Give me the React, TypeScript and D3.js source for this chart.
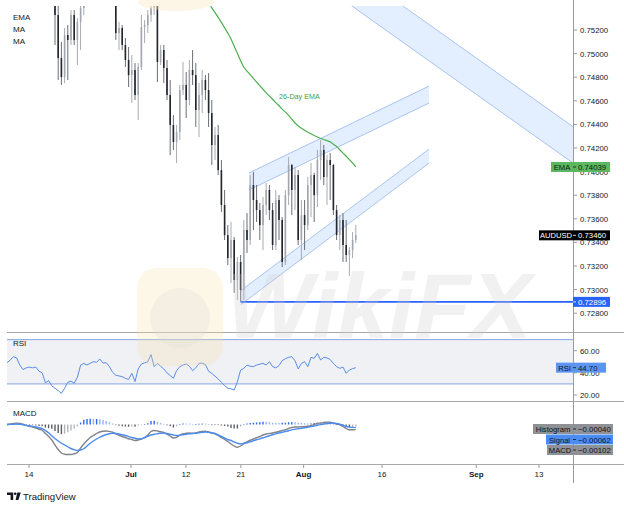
import React from "react";
import * as d3 from "d3";

const W = 624;
const H = 508;
const FONT = "'Liberation Sans', Arial, sans-serif";

// OHLC per bar [open, high, low, close]
const candles: [number, number, number, number][] = [
  [0.7715, 0.7725, 0.77, 0.7708],
  [0.7708, 0.7718, 0.7695, 0.77],
  [0.77, 0.7712, 0.769, 0.7705],
  [0.7705, 0.7715, 0.7695, 0.7698],
  [0.7698, 0.7705, 0.768, 0.7685],
  [0.7685, 0.7692, 0.767, 0.7675],
  [0.7675, 0.7688, 0.7668, 0.768],
  [0.768, 0.769, 0.767, 0.7672],
  [0.7672, 0.7685, 0.7665, 0.7678],
  [0.7678, 0.7684, 0.766, 0.7665],
  [0.7665, 0.767, 0.764, 0.7648],
  [0.7648, 0.766, 0.764, 0.7655],
  [0.7655, 0.766, 0.76, 0.761],
  [0.761, 0.7625, 0.759, 0.76],
  [0.76, 0.7608, 0.7555, 0.7562],
  [0.7562, 0.757, 0.75073, 0.75327],
  [0.75327, 0.75412, 0.74776, 0.74962],
  [0.74962, 0.75098, 0.74734, 0.74801],
  [0.74801, 0.75217, 0.7475, 0.75157],
  [0.75157, 0.75242, 0.74776, 0.75115],
  [0.75115, 0.75369, 0.75073, 0.75327],
  [0.75327, 0.75369, 0.75073, 0.75115],
  [0.75115, 0.75301, 0.74903, 0.75268],
  [0.75268, 0.75412, 0.7503, 0.75386],
  [0.75386, 0.756, 0.75327, 0.7552],
  [0.7552, 0.7575, 0.7545, 0.757],
  [0.757, 0.7588, 0.7562, 0.758],
  [0.758, 0.7598, 0.7572, 0.759],
  [0.759, 0.7605, 0.7578, 0.7585],
  [0.7585, 0.7612, 0.758, 0.7605],
  [0.7605, 0.7615, 0.7585, 0.7592],
  [0.7592, 0.7608, 0.7585, 0.7598],
  [0.7598, 0.7602, 0.757, 0.7575],
  [0.7575, 0.7582, 0.7548, 0.7552],
  [0.7552, 0.7558, 0.75115, 0.75174],
  [0.75174, 0.75268, 0.7503, 0.75217],
  [0.75217, 0.75242, 0.7503, 0.75073],
  [0.75073, 0.75132, 0.74886, 0.74946],
  [0.74946, 0.75056, 0.74717, 0.74818],
  [0.74818, 0.74988, 0.74581, 0.74861],
  [0.74861, 0.7492, 0.74607, 0.74649],
  [0.74649, 0.7492, 0.74437, 0.74886],
  [0.74886, 0.75327, 0.74861, 0.75225],
  [0.75225, 0.75284, 0.7509, 0.75242],
  [0.75242, 0.75369, 0.75174, 0.75327],
  [0.75327, 0.75437, 0.75268, 0.75386],
  [0.75386, 0.75496, 0.75327, 0.75412],
  [0.75412, 0.7548, 0.74759, 0.74929],
  [0.74929, 0.75073, 0.74903, 0.7503],
  [0.7503, 0.75073, 0.7475, 0.74878],
  [0.74878, 0.74946, 0.74607, 0.74649],
  [0.74649, 0.74776, 0.7414, 0.74395],
  [0.74395, 0.74479, 0.74183, 0.74251],
  [0.74251, 0.74395, 0.74073, 0.74335],
  [0.74335, 0.74734, 0.74268, 0.74691],
  [0.74691, 0.74929, 0.74649, 0.74734],
  [0.74734, 0.74844, 0.74454, 0.74607],
  [0.74607, 0.74946, 0.74564, 0.74861],
  [0.74861, 0.7503, 0.74734, 0.74818],
  [0.74818, 0.7492, 0.74378, 0.74522],
  [0.74522, 0.7475, 0.74293, 0.74649],
  [0.74649, 0.74861, 0.74496, 0.74776],
  [0.74776, 0.74818, 0.74607, 0.74691],
  [0.74691, 0.74835, 0.74378, 0.74496],
  [0.74496, 0.74607, 0.74056, 0.74225],
  [0.74225, 0.74378, 0.74098, 0.7431],
  [0.7431, 0.74395, 0.73971, 0.74013],
  [0.74013, 0.74098, 0.73657, 0.73717],
  [0.73717, 0.73844, 0.7342, 0.73462],
  [0.73462, 0.73547, 0.73208, 0.73267],
  [0.73267, 0.73573, 0.73056, 0.7342],
  [0.7342, 0.73445, 0.72971, 0.73081],
  [0.73081, 0.73276, 0.72912, 0.73234],
  [0.73234, 0.73293, 0.72896, 0.72996],
  [0.72996, 0.7359, 0.72912, 0.73505],
  [0.73505, 0.73649, 0.7331, 0.7342],
  [0.7342, 0.73971, 0.73378, 0.73886],
  [0.73886, 0.73996, 0.73505, 0.73759],
  [0.73759, 0.73886, 0.73573, 0.73674],
  [0.73674, 0.73734, 0.7342, 0.73547],
  [0.73547, 0.73784, 0.73335, 0.73717],
  [0.73717, 0.73903, 0.73632, 0.73844],
  [0.73844, 0.73886, 0.7359, 0.73674],
  [0.73674, 0.73734, 0.73335, 0.73378],
  [0.73378, 0.73844, 0.73335, 0.73759],
  [0.73759, 0.73801, 0.7342, 0.7359],
  [0.7359, 0.73615, 0.73191, 0.73234],
  [0.73234, 0.73844, 0.73208, 0.73801],
  [0.73801, 0.74123, 0.73717, 0.74056],
  [0.74056, 0.74065, 0.73632, 0.73844],
  [0.73844, 0.74039, 0.73674, 0.73971],
  [0.73971, 0.74013, 0.73378, 0.7342],
  [0.7342, 0.73759, 0.73251, 0.73632],
  [0.73632, 0.73759, 0.73335, 0.73547],
  [0.73547, 0.73954, 0.73505, 0.73886],
  [0.73886, 0.74073, 0.73615, 0.73971],
  [0.73971, 0.7399, 0.73573, 0.73801],
  [0.73801, 0.74183, 0.737, 0.74098],
  [0.74098, 0.74268, 0.73929, 0.74183],
  [0.74183, 0.74225, 0.73886, 0.73954],
  [0.73954, 0.7414, 0.73717, 0.74098],
  [0.74098, 0.74157, 0.73759, 0.74056],
  [0.74056, 0.74065, 0.73632, 0.73674],
  [0.73674, 0.73717, 0.7342, 0.73462],
  [0.73462, 0.73632, 0.73335, 0.7359],
  [0.7359, 0.73649, 0.73234, 0.73378],
  [0.73378, 0.7359, 0.73234, 0.73293],
  [0.73293, 0.73361, 0.73115, 0.73335],
  [0.73335, 0.73488, 0.73267, 0.7342],
  [0.7342, 0.73547, 0.73395, 0.7346],
];

const ema26Start = 62;
const ema26: number[] = [
  0.75496, 0.75446, 0.75387, 0.75347, 0.75307, 0.75265, 0.75219, 0.75174, 0.75123, 0.75062,
  0.75001, 0.7494, 0.74884, 0.74852, 0.74821, 0.7479, 0.74759, 0.74729, 0.74698, 0.74667,
  0.7464, 0.74613, 0.74585, 0.74558, 0.7453, 0.74504, 0.74477, 0.74444, 0.74412, 0.74386,
  0.74367, 0.7435, 0.74334, 0.7432, 0.74306, 0.74293, 0.7428, 0.74272, 0.74262, 0.74252,
  0.74231, 0.74212, 0.74185, 0.74157, 0.7413, 0.74101, 0.74073, 0.74039,
];

const rsi: number[] = [
  49.2, 51.5, 54.6, 53.5, 47.0, 43.0, 44.5, 45.2, 44.5, 45.2,
  41.5, 40.0, 31.0, 33.0, 28.2, 26.1, 24.0, 21.5, 26.0, 31.5,
  32.5, 30.6, 36.0, 47.0, 48.5, 47.1, 48.6, 50.1, 49.5, 52.5,
  48.8, 49.2, 45.6, 40.5, 37.8, 37.2, 36.6, 35.0, 34.0, 39.6,
  32.1, 43.5, 48.0, 49.0, 50.0, 56.5, 45.6, 48.6, 46.0, 43.5,
  40.0, 37.5, 35.1, 42.0, 45.6, 47.1, 48.0, 46.0, 42.0, 44.5,
  48.5, 48.8, 47.5, 41.5, 39.5, 37.0, 34.5, 31.5, 28.5, 26.1,
  25.6, 24.5, 32.0, 42.5, 44.0, 47.0, 46.0, 45.6, 47.1, 47.8,
  48.6, 47.1, 50.1, 45.6, 44.5, 46.5, 51.0, 52.8, 54.0, 54.6,
  51.0, 43.5, 48.6, 50.1, 45.6, 54.0, 53.1, 57.5, 51.6, 54.0,
  53.5, 52.0, 48.5, 45.6, 44.1, 45.2, 39.6, 42.6, 43.8, 44.7,
];

const macdLine: number[] = [
  0.0, 0.0001, 0.0002, 0.00027, 0.0002, 0.00005, -0.00015, -0.00035, -0.0005, -0.0007,
  -0.00095, -0.00115, -0.0018, -0.0024, -0.0031, -0.0041, -0.005, -0.0057, -0.00595, -0.006,
  -0.006, -0.00585, -0.0056, -0.0047, -0.0039, -0.0032, -0.0026, -0.0022, -0.0018, -0.0015,
  -0.00135, -0.0013, -0.0014, -0.00155, -0.00185, -0.00215, -0.0024, -0.0026, -0.00285, -0.003,
  -0.0032, -0.0031, -0.0029, -0.0026, -0.0021, -0.0014, -0.0012, -0.0013, -0.00145, -0.0016,
  -0.00195, -0.0023, -0.0027, -0.00255, -0.00215, -0.00185, -0.00175, -0.0017, -0.00175, -0.0017,
  -0.0015, -0.0014, -0.00135, -0.0015, -0.0017, -0.00185, -0.0022, -0.0026, -0.003, -0.0034,
  -0.0039, -0.0043, -0.00455, -0.0043, -0.0038, -0.00345, -0.00315, -0.0029, -0.00265, -0.0024,
  -0.0021, -0.0019, -0.0018, -0.0017, -0.00155, -0.0014, -0.0012, -0.00105, -0.0008, -0.0006,
  -0.0005, -0.0005, -0.00045, -0.0004, -0.00035, -0.0002, 0.0, 0.0002, 0.0003, 0.0004,
  0.00045, 0.00045, 0.0003, 0.0001, -0.00005, -0.0004, -0.0008, -0.00105, -0.00105, -0.00102,
];

const signalLine: number[] = [
  0.0, 0.00002, 0.00005, 0.00007, 0.00005, -0.00005, -0.00018, -0.00028, -0.00038, -0.0005,
  -0.00065, -0.00082, -0.0012, -0.00165, -0.00225, -0.0028, -0.0033, -0.00375, -0.0041, -0.00445,
  -0.0048, -0.00505, -0.0052, -0.0051, -0.00485, -0.0043, -0.00375, -0.0033, -0.0029, -0.00255,
  -0.00225, -0.002, -0.00185, -0.00175, -0.0018, -0.0019, -0.00205, -0.0022, -0.0024, -0.0026,
  -0.00275, -0.00287, -0.00285, -0.00265, -0.00235, -0.0021, -0.00195, -0.00185, -0.00175, -0.00173,
  -0.0018, -0.00195, -0.0021, -0.0022, -0.00215, -0.00205, -0.00195, -0.00187, -0.0018, -0.00175,
  -0.00165, -0.00158, -0.00153, -0.00155, -0.00165, -0.0018, -0.0021, -0.0024, -0.0027, -0.003,
  -0.0032, -0.0035, -0.00375, -0.00387, -0.0038, -0.00365, -0.00345, -0.00325, -0.00305, -0.00287,
  -0.00265, -0.00245, -0.00225, -0.00205, -0.00187, -0.0017, -0.00155, -0.0014, -0.00125, -0.00107,
  -0.00095, -0.00085, -0.00075, -0.00065, -0.00055, -0.00042, -0.0003, -0.00015, -0.00002, 0.0001,
  0.0002, 0.00025, 0.00027, 0.0002, 0.00005, -0.00015, -0.0004, -0.00052, -0.00058, -0.00062,
];

// Channels: [barIndex, price] start/end of upper line, and vertical width in price
const channelStarts: [number, number][] = [
  [75.6, 0.73988],
  [73.1, 0.72992],
  [100, 0.75861],
];
const channelEnds: [number, number][] = [
  [131.9, 0.74725],
  [131.9, 0.74191],
  [176.9, 0.7438],
];
const channelWidths: number[] = [0.00144, 0.00119, 0.00308];

const levelStartBar = 73;
const levelPrice = 0.72896;

const priceTicks: number[] = [
  0.728, 0.73, 0.732, 0.734, 0.736, 0.738, 0.74, 0.742, 0.744, 0.746, 0.748, 0.75, 0.752,
];
const rsiTicks: number[] = [20, 40, 60];
const rsiBands: number[] = [30, 70];

// trading-day offsets from Jun 14
const dayTicks: number[] = [0, 13, 20, 27, 35, 45, 57, 65];
const dayLabels: string[] = ["14", "Jul", "12", "21", "Aug", "16", "Sep", "13"];

const legendItems: string[] = ["EMA", "MA", "MA"];

export default function App() {
  const n = candles.length;
  const xBar = d3.scaleLinear().domain([0, n - 1]).range([7, 355.8]);
  const xDay = d3.scaleLinear().domain([0, 65]).range([29, 539]);
  const yP = d3.scaleLinear().domain([0.728, 0.752]).range([313.2, 30]);
  const yR = d3.scaleLinear().domain([20, 60]).range([395, 350.7]);
  const yM = d3.scaleLinear().domain([-0.0079, 0.0045]).range([464, 402]);

  const axisX = 573;
  const fmt5 = d3.format(".5f");
  const fmt2 = d3.format(".2f");

  const emaPath = d3
    .line<number>()
    .x((_, i) => xBar(ema26Start + i))
    .y((d) => yP(d))(ema26);
  const rsiPath = d3
    .line<number>()
    .x((_, i) => xBar(i))
    .y((d) => yR(d))(rsi);
  const macdPath = d3
    .line<number>()
    .x((_, i) => xBar(i))
    .y((d) => yM(d))
    .curve(d3.curveMonotoneX)(macdLine);
  const signalPath = d3
    .line<number>()
    .x((_, i) => xBar(i))
    .y((d) => yM(d))
    .curve(d3.curveMonotoneX)(signalLine);

  const hist = macdLine.map((m, i) => m - signalLine[i]);

  const lastClose = candles[n - 1][3];
  const lastEma = ema26[ema26.length - 1];
  const lastRsi = rsi[rsi.length - 1];
  const lastHist = hist[hist.length - 1];
  const lastSignal = signalLine[signalLine.length - 1];
  const lastMacd = macdLine[macdLine.length - 1];

  const txt = "#131722";

  const box = (
    key: string,
    name: string | null,
    nameW: number,
    value: string,
    y: number,
    fill: string,
    nameFill: string,
    textColor: string,
    valueW = 37
  ) => (
    <g key={key}>
      {name && (
        <>
          <rect x={axisX - nameW} y={y - 5} width={nameW} height={10} fill={nameFill} />
          <text
            x={axisX - nameW / 2}
            y={y + 3}
            textAnchor="middle"
            fontSize={7.6}
            fill={textColor}
            fontFamily={FONT}
          >
            {name}
          </text>
        </>
      )}
      <rect x={axisX} y={y - 5} width={valueW} height={10} fill={fill} />
      <line x1={axisX} x2={axisX + 3} y1={y} y2={y} stroke={textColor} strokeWidth={0.8} />
      <text x={axisX + 5} y={y + 3} fontSize={7.8} fill={textColor} fontFamily={FONT}>
        {value}
      </text>
    </g>
  );

  const histY = yM(lastHist);

  return (
    <svg
      width={W}
      height={H}
      viewBox={`0 0 ${W} ${H}`}
      style={{ position: "absolute", left: 0, top: 0, background: "#fff" }}
    >
      <defs>
        <clipPath id="mainClip">
          <rect x={7} y={6} width={axisX - 7} height={326} />
        </clipPath>
        <clipPath id="macdClip">
          <rect x={7} y={403} width={axisX - 7} height={61} />
        </clipPath>
      </defs>
      <rect x={0} y={0} width={W} height={H} fill="#ffffff" />

      {/* main pane */}
      <g clipPath="url(#mainClip)">
        {channelStarts.map((s, k) => {
          const e = channelEnds[k];
          const w = channelWidths[k];
          const x1 = xBar(s[0]);
          const x2 = xBar(e[0]);
          const pts = [
            [x1, yP(s[1])],
            [x2, yP(e[1])],
            [x2, yP(e[1] - w)],
            [x1, yP(s[1] - w)],
          ];
          return (
            <g key={"ch" + k}>
              <polygon
                points={pts.map((p) => p.join(",")).join(" ")}
                fill="rgba(41,120,255,0.13)"
                stroke="none"
              />
              <line x1={x1} y1={yP(s[1])} x2={x2} y2={yP(e[1])} stroke="#a9c3f3" strokeWidth={1} />
              <line
                x1={x1}
                y1={yP(s[1] - w)}
                x2={x2}
                y2={yP(e[1] - w)}
                stroke="#a9c3f3"
                strokeWidth={1}
              />
            </g>
          );
        })}

        {candles.map((c, i) => {
          const [o, h, l, cl] = c;
          const x = xBar(i);
          const up = cl >= o;
          const yTop = yP(Math.max(o, cl));
          const yBot = yP(Math.min(o, cl));
          return (
            <g key={"c" + i}>
              <line
                x1={x}
                x2={x}
                y1={yP(h)}
                y2={yP(l)}
                stroke={up ? "#a7aab2" : "#6b6e76"}
                strokeWidth={1}
              />
              <rect
                x={x - 0.8}
                y={yTop}
                width={1.6}
                height={Math.max(1, yBot - yTop)}
                fill={up ? "#a3a6ae" : "#23262d"}
              />
            </g>
          );
        })}

        <path d={emaPath || ""} fill="none" stroke="#4caf50" strokeWidth={1.2} />
        <text
          x={xBar(85)}
          y={yP(0.7464) + 3}
          fontSize={7.2}
          fill="#3e9e44"
          fontFamily={FONT}
        >
          26-Day EMA
        </text>

        <line
          x1={xBar(levelStartBar)}
          x2={axisX}
          y1={yP(levelPrice)}
          y2={yP(levelPrice)}
          stroke="#2962ff"
          strokeWidth={1.6}
        />
      </g>

      {legendItems.map((t, i) => (
        <text key={"lg" + i} x={13} y={20 + i * 12} fontSize={8} fill={txt} fontFamily={FONT}>
          {t}
        </text>
      ))}

      {/* RSI pane */}
      <rect
        x={7}
        y={yR(rsiBands[1])}
        width={axisX - 7}
        height={yR(rsiBands[0]) - yR(rsiBands[1])}
        fill="#f0f1f5"
      />
      {rsiBands.map((b) => (
        <line
          key={"rb" + b}
          x1={7}
          x2={axisX}
          y1={yR(b)}
          y2={yR(b)}
          stroke="#85a3e3"
          strokeWidth={1}
        />
      ))}
      <path d={rsiPath || ""} fill="none" stroke="#5a8ce8" strokeWidth={1} />
      <text x={13} y={346} fontSize={8} fill={txt} fontFamily={FONT}>
        RSI
      </text>

      {/* MACD pane */}
      <g clipPath="url(#macdClip)">
        {hist.map((h, i) => {
          const prev = i > 0 ? hist[i - 1] : 0;
          let col: string;
          if (h >= 0) col = h >= prev ? "#2f66f0" : "#8fb3f5";
          else col = h <= prev ? "#5c5f66" : "#b4b6bc";
          const y0 = yM(0);
          const y1 = yM(h);
          return (
            <rect
              key={"h" + i}
              x={xBar(i) - 0.7}
              y={Math.min(y0, y1)}
              width={1.4}
              height={Math.max(0.6, Math.abs(y1 - y0))}
              fill={col}
            />
          );
        })}
        <path d={macdPath || ""} fill="none" stroke="#808389" strokeWidth={1.4} />
        <path d={signalPath || ""} fill="none" stroke="#4b8cf0" strokeWidth={1.4} />
      </g>
      <text x={13} y={416} fontSize={8} fill={txt} fontFamily={FONT}>
        MACD
      </text>

      {/* separators */}
      <line x1={7} x2={W} y1={332.5} y2={332.5} stroke="#a8a8a8" strokeWidth={1} />
      <line x1={7} x2={W} y1={401.5} y2={401.5} stroke="#a8a8a8" strokeWidth={1} />
      <line x1={7} x2={W} y1={464.5} y2={464.5} stroke="#a8a8a8" strokeWidth={1} />
      <line x1={axisX + 0.5} x2={axisX + 0.5} y1={0} y2={483} stroke="#9a9a9a" strokeWidth={1} />

      {/* price axis */}
      {priceTicks.map((p) => (
        <g key={"pt" + p}>
          <line x1={axisX} x2={axisX + 4} y1={yP(p)} y2={yP(p)} stroke="#9a9a9a" />
          <text x={axisX + 7} y={yP(p) + 3} fontSize={7.8} fill={txt} fontFamily={FONT}>
            {fmt5(p)}
          </text>
        </g>
      ))}
      {rsiTicks.map((r) => (
        <g key={"rt" + r}>
          <line x1={axisX} x2={axisX + 4} y1={yR(r)} y2={yR(r)} stroke="#9a9a9a" />
          <text x={axisX + 7} y={yR(r) + 3} fontSize={7.8} fill={txt} fontFamily={FONT}>
            {fmt2(r)}
          </text>
        </g>
      ))}

      {/* time axis */}
      {dayTicks.map((d, i) => {
        const isMonth = /[A-Za-z]/.test(dayLabels[i]);
        return (
          <g key={"dt" + d}>
            <line x1={xDay(d)} x2={xDay(d)} y1={465} y2={468} stroke="#9a9a9a" />
            <text
              x={xDay(d)}
              y={477}
              textAnchor="middle"
              fontSize={8}
              fontWeight={isMonth ? "bold" : "normal"}
              fill={txt}
              fontFamily={FONT}
            >
              {dayLabels[i]}
            </text>
          </g>
        );
      })}

      {/* price labels */}
      {box("ema", "EMA", 22, fmt5(lastEma), yP(lastEma), "#5cb85f", "#5cb85f", "#0f1a10")}
      {box("last", "AUDUSD", 34, fmt5(lastClose), yP(lastClose), "#000000", "#000000", "#ffffff")}
      {box("lvl", null, 0, fmt5(levelPrice), yP(levelPrice), "#2962ff", "#2962ff", "#ffffff")}
      {box("rsi", "RSI", 17, fmt2(lastRsi), yR(lastRsi), "#5c95ef", "#5c95ef", "#0d1530", 33)}
      {box("hist", "Histogram", 40, fmt5(lastHist), histY + 2.5, "#8f9196", "#8f9196", "#111", 40)}
      {box("sig", "Signal", 27, fmt5(lastSignal), histY + 13, "#4b8cf0", "#4b8cf0", "#0d1530", 40)}
      {box("macd", "MACD", 26, fmt5(lastMacd), histY + 23.5, "#8f9196", "#8f9196", "#111", 40)}

      {/* watermark */}
      <g pointerEvents="none">
        <ellipse cx={176} cy={2} rx={38} ry={9} fill="#fbe6bf" opacity={0.4} />
        <rect x={137} y={268} width={86} height={98} rx={20} fill="#f9dfa8" opacity={0.26} />
        <circle cx={180} cy={318} r={30} fill="#e2ddd5" opacity={0.3} />
        <text
          x={226}
          y={338}
          fontSize={92}
          fontWeight="bold"
          fontStyle="italic"
          fill="#cfcfcf"
          opacity={0.28}
          fontFamily={FONT}
        >
          WikiFX
        </text>
      </g>

      {/* TradingView logo */}
      <g fill="#131722">
        <path d="M7 492.5 H13.2 V500 H10.6 V495 H7 Z" />
        <circle cx={15.2} cy={493.8} r={1.3} />
        <path d="M17.3 492.5 H20.8 L18.4 500 H15.6 Z" />
      </g>
      <text x={23} y={500} fontSize={9.6} fill="#131722" fontFamily={FONT}>
        TradingView
      </text>
    </svg>
  );
}
